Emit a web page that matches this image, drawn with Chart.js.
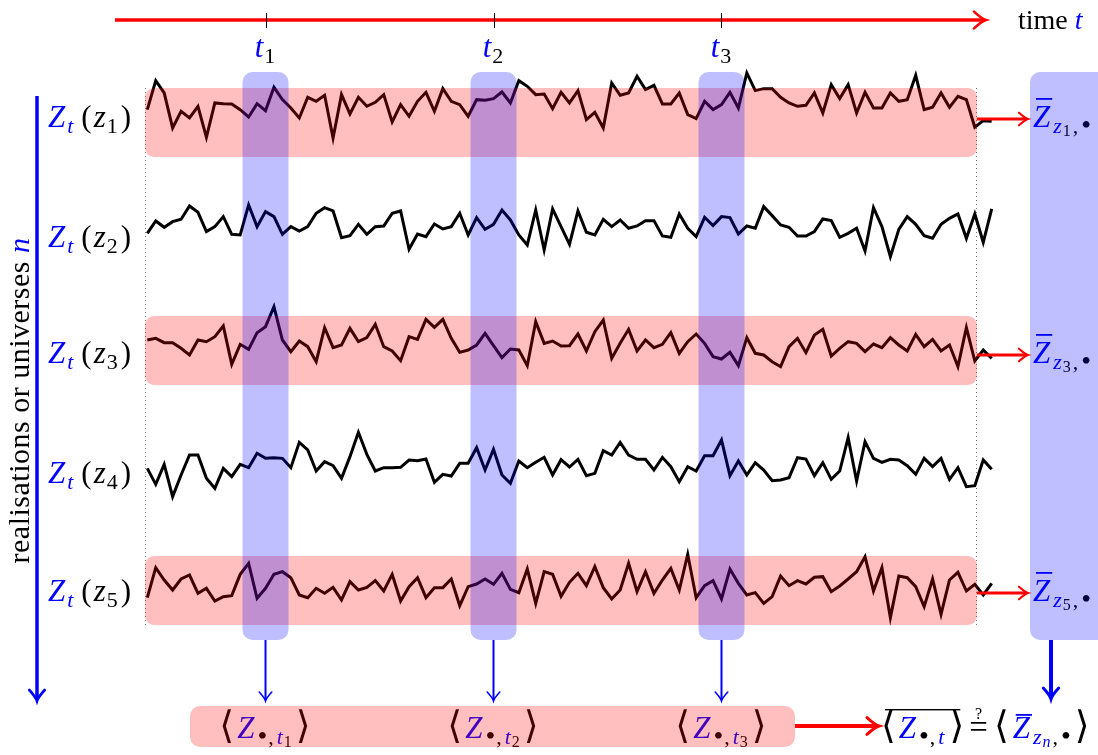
<!DOCTYPE html>
<html>
<head>
<meta charset="utf-8">
<script src="https://cdn.jsdelivr.net/npm/chart.js@4.4.0/dist/chart.umd.min.js"></script>
<style>
  html, body { margin: 0; padding: 0; background: #fff; }
  #wrap { position: relative; width: 1098px; height: 755px; }
</style>
</head>
<body>
<div id="wrap"><canvas id="ensemble"></canvas></div>
<script>
// one realisation per row, 101 samples each
const steps = Array.from({ length: 101 }, (_, i) => i);

const z1 = [-2.5, 6.2, 2.5, -8.0, -3.0, -5.0, -1.5, -10.8, -0.5, -0.7,
  -0.8, -2.5, -4.7, -0.7, -2.8, 4.2, 0.5, -2.0, -5.0, 1.2,
  0.0, 1.8, -11.0, 2.0, -3.8, 1.2, -1.5, -0.3, 2.0, -6.2,
  -1.0, -4.5, 0.0, 2.7, -3.0, 3.8, 0.0, -1.0, -4.5, 0.5,
  0.3, 0.8, 2.8, -0.5, 6.2, 4.5, 2.0, 2.2, -2.2, 2.7,
  -0.5, 3.2, -5.5, -3.3, -8.0, 5.5, 1.8, 2.5, 7.5, 3.5,
  4.8, -0.8, -0.8, 2.5, -4.0, -5.2, 0.0, -2.5, -1.0, 2.7,
  -2.0, 8.5, 3.2, 3.8, 3.8, 1.2, -0.5, -1.5, -1.2, 2.5,
  -3.5, 5.0, 0.8, 5.0, -3.5, 2.7, -2.0, -2.0, 2.5, 0.0,
  0.5, 7.8, -2.5, -1.8, 2.5, -1.8, 1.5, 0.5, -7.8, -5.8,
  -6.0];
const z2 = [-1.5, 2.2, 0.3, 2.0, 2.7, 6.7, 4.8, -1.0, 0.5, 3.5,
  -1.8, -2.0, 7.0, 0.5, 5.0, 3.5, -1.8, 0.5, -0.8, 0.5,
  4.5, 6.2, 5.2, -2.8, -2.2, 1.2, -1.8, 0.5, 0.7, 4.5,
  5.2, -6.3, -1.7, -2.5, 1.3, -0.2, 0.5, 4.5, -2.0, 3.2,
  -0.3, 1.2, 5.5, 2.5, -2.0, -5.0, 5.5, -6.5, 5.8, 0.5,
  -4.8, 5.2, -1.2, -2.0, 2.7, 0.5, 2.5, 0.0, 0.7, 2.3,
  2.3, -2.3, -2.7, 4.3, 0.0, -2.5, 3.3, 0.8, 3.5, 3.2,
  -1.7, 0.7, 0.0, 6.5, 3.8, 1.0, 0.3, -2.3, -2.3, -1.0,
  2.8, 2.3, -2.7, -1.5, 0.0, -6.8, 6.2, 0.5, -8.5, -0.3,
  3.5, 1.2, -2.2, -3.0, 1.2, 3.0, 4.3, -3.0, 4.3, -4.2,
  5.8];
const z3 = [1.5, 2.0, 0.7, 0.7, -1.0, -3.0, 1.5, 1.0, 2.5, 5.7,
  -5.8, 0.2, -1.3, 3.7, 5.5, 11.5, 1.5, -2.0, 1.2, -0.5,
  -5.0, 5.2, -0.8, 0.0, 5.0, 1.0, 2.2, 6.2, -0.5, -1.8,
  -4.7, 2.5, 1.7, 7.7, 5.3, 7.7, 2.0, -2.2, -1.5, 0.0,
  3.5, -0.2, -3.8, -1.2, -1.5, -6.2, 7.0, 0.5, 1.2, -0.3,
  -0.2, 3.3, -1.8, 4.0, 7.5, -4.0, 0.5, 4.7, -1.8, 1.5,
  -0.8, 0.2, 3.7, -2.5, 1.0, 3.3, 0.5, -3.5, -4.2, -2.2,
  -6.2, 2.2, -2.5, -3.0, -5.0, -6.5, -0.5, 2.0, -2.3, 3.0,
  4.7, -3.3, -1.0, 1.0, 0.5, -2.0, 0.3, -0.8, 2.2, 0.0,
  -1.8, 3.2, -0.5, 1.7, -1.8, 0.0, -6.5, 5.2, -4.8, -1.5,
  -4.0];
const z4 = [-1.0, -5.8, 0.2, -9.5, -3.0, 3.0, 3.0, -4.0, -7.0, -1.0,
  -3.5, 0.2, -0.8, 3.5, 2.0, 2.2, 2.0, -0.8, 6.8, 4.5,
  -1.8, 1.0, -0.2, -4.0, 2.5, 9.8, 3.2, -1.8, -0.8, -0.8,
  -0.7, 1.5, 1.3, 1.8, -5.2, -2.8, -3.3, 0.5, 0.5, 5.2,
  -1.5, 4.7, -3.0, -5.5, 1.2, -0.8, 0.8, 2.3, -3.0, 1.6,
  -0.6, 1.7, -3.2, -2.5, 4.3, 3.0, 6.8, 3.0, 1.7, 1.7,
  -1.5, 2.3, -0.5, -5.0, -0.5, -1.8, 2.8, 2.8, 7.5, -3.2,
  1.2, -3.0, 0.7, -1.5, -4.7, -4.5, -3.8, 2.2, 1.8, -3.2,
  0.7, -4.3, -1.8, 8.2, -4.8, 7.0, 2.0, 0.8, 1.7, 1.5,
  -0.2, -2.8, 2.0, -0.5, 2.0, -4.3, -0.8, -6.5, -6.2, 1.5,
  -1.3];
const z5 = [-3.8, 5.2, 1.5, -1.5, 1.8, 3.0, -2.5, -1.0, -4.8, -3.5,
  -3.2, 3.2, 6.5, -4.0, -1.0, 3.2, 4.0, 2.2, -3.0, -3.8,
  -1.0, -2.5, -0.7, -4.5, 1.0, -1.5, -0.7, 1.3, -1.8, 3.2,
  -4.8, -0.5, 2.2, -3.8, -0.8, -0.8, 1.8, -6.2, -0.5, 0.3,
  1.8, 0.2, 3.5, -1.3, -2.3, 4.8, -5.5, 4.0, 3.2, -3.4,
  0.8, 3.5, -0.2, 5.5, -0.8, -4.2, -1.5, 6.5, -2.0, 4.0,
  -2.5, 1.5, 5.0, -1.5, 9.2, -3.8, -0.2, 1.3, -4.2, 4.8,
  0.5, -3.0, -2.3, -5.5, -3.5, 2.7, -0.2, 1.3, 0.3, 2.3,
  2.5, -2.0, -0.3, 1.8, 4.0, 8.5, -1.8, 5.2, -9.8, 2.7,
  2.2, -0.5, -6.5, 1.8, -8.8, 1.5, 3.8, -1.8, 0.2, -3.0,
  0.5];

const realisations = [z1, z2, z3, z4, z5];
const rowNames = ['1', '2', '3', '4', '5'];
const sampleTimes = [14, 41, 68];        // t1, t2, t3 as sample index
const timeNames = ['1', '2', '3'];
const averagedRows = [0, 2, 4];          // rows with a time average

// layout (pixels)
const W = 1098, H = 755;
const X0 = 147.3, DX = 8.444;            // pixel of sample 0, pixels per sample
const rowBase = [101.3, 228.3, 345, 465, 585];
const rowLabelY = [118, 238, 354, 474, 592];
const bandTop = [88, null, 316, null, 556];
const AMP = 10 / 3;

const BLUE = '#0000ff', RED = '#ff0000';
const FONT = '"Liberation Serif", "DejaVu Serif", serif';

// a math-ish run of text pieces, returns pieces with their x and width
function drawRuns(ctx, x, y, parts, align) {
  let total = 0;
  parts.forEach(p => {
    ctx.font = (p.it ? 'italic ' : '') + p.size + 'px ' + (p.font || FONT);
    p.tw = ctx.measureText(p.s).width;
    p.w = p.tw + (p.gap || 0);
    total += p.w;
  });
  let cx = align === 'center' ? x - total / 2 : x;
  ctx.textAlign = 'left';
  ctx.textBaseline = 'alphabetic';
  parts.forEach(p => {
    ctx.font = (p.it ? 'italic ' : '') + p.size + 'px ' + (p.font || FONT);
    ctx.fillStyle = p.c || '#000';
    p.x = cx;
    ctx.fillText(p.s, p.x, y + (p.dy || 0));
    cx += p.w;
  });
  return parts;
}
const M = (s, c, o) => Object.assign({ s, size: 31, c, it: true, gap: 1 }, o);
const R = (s, o) => Object.assign({ s, size: 31 }, o);
const Sb = (s, c, it, o) => Object.assign({ s, size: 22, c, it, dy: 6, gap: 1 }, o);
const SS = (s, c, it, o) => Object.assign({ s, size: 16, c, it, dy: 9, gap: 2 }, o);
const Dot = (o) => Object.assign({ s: '•', size: 28, c: '#000', dy: 7, gap: 1 }, o);
const Br = (s, o) => Object.assign({ s, size: 38, font: '"DejaVu Serif", serif', c: '#000', gap: 1 }, o);

function arrow(ctx, x1, y1, x2, y2, color, lw, len) {
  const a = Math.atan2(y2 - y1, x2 - x1);
  const ux = Math.cos(a), uy = Math.sin(a), nx = -uy, ny = ux;
  ctx.save();
  ctx.strokeStyle = color;
  ctx.lineWidth = lw;
  ctx.lineCap = 'butt';
  ctx.beginPath();
  ctx.moveTo(x1, y1);
  ctx.lineTo(x2 - ux * lw * 0.5, y2 - uy * lw * 0.5);
  ctx.stroke();
  const w = len * 0.7;
  const bx = x2 - ux * len, by = y2 - uy * len;
  const mx = x2 - ux * len * 0.35, my = y2 - uy * len * 0.35;
  ctx.lineCap = 'round';
  ctx.lineWidth = Math.max(1.6, lw * 0.75);
  ctx.beginPath();
  ctx.moveTo(bx + nx * w, by + ny * w);
  ctx.quadraticCurveTo(mx + nx * w * 0.15, my + ny * w * 0.15, x2, y2);
  ctx.quadraticCurveTo(mx - nx * w * 0.15, my - ny * w * 0.15, bx - nx * w, by - ny * w);
  ctx.stroke();
  ctx.restore();
}

function box(ctx, x, y, w, h, r, fill) {
  ctx.fillStyle = fill;
  ctx.beginPath();
  ctx.roundRect(x, y, w, h, r);
  ctx.fill();
}

const diagram = {
  id: 'diagram',
  beforeDatasetsDraw(chart) {
    const ctx = chart.ctx;
    ctx.save();
    ctx.strokeStyle = '#777';
    ctx.lineWidth = 1;
    ctx.setLineDash([1, 3]);
    [145.5, 976.5].forEach(x => {
      ctx.beginPath(); ctx.moveTo(x, 88); ctx.lineTo(x, 625); ctx.stroke();
    });
    ctx.restore();
  },
  afterDatasetsDraw(chart) {
    const ctx = chart.ctx;
    const xs = chart.scales.x;
    const tx = sampleTimes.map(t => xs.getPixelForValue(t));
    ctx.save();

    // --- texts ---
    drawRuns(ctx, 1018, 29, [R('time', { size: 28, gap: 7 }), M('t', BLUE, { size: 28 })]);
    tx.forEach((x, k) => drawRuns(ctx, x, 57, [M('t', BLUE), Sb(timeNames[k], '#000', false)], 'center'));

    ctx.save();
    ctx.translate(29, 400);
    ctx.rotate(-Math.PI / 2);
    ctx.letterSpacing = '0.5px';
    drawRuns(ctx, 0, 0, [R('realisations or universes ', { size: 30 }), M('n', BLUE, { size: 30 })], 'center');
    ctx.letterSpacing = '0px';
    ctx.restore();

    rowNames.forEach((n, k) => {
      drawRuns(ctx, 48, rowLabelY[k] + 9, [
        M('Z', BLUE, { gap: 2 }), Sb('t', BLUE, true, { gap: 8 }), R('(', { gap: 2 }), M('z'), Sb(n, '#000', false, { gap: 3 }), R(')')
      ]);
    });

    averagedRows.forEach(k => {
      const p = drawRuns(ctx, 1033, rowLabelY[k] + 9, [
        M('Z', BLUE, { gap: 3 }), Sb('z', BLUE, true), SS(rowNames[k], '#000', false, { gap: 2 }), Sb(',', '#000', false, { gap: 3 }), Dot()
      ]);
      ctx.fillStyle = BLUE;
      ctx.fillRect(p[0].x + 3, rowLabelY[k] - 20, p[0].tw - 1, 1.8);
    });

    tx.forEach((x, k) => {
      drawRuns(ctx, x, 738, [
        Br('⟨', { gap: 3 }), M('Z', BLUE, { gap: 3 }), Dot(), Sb(',', '#000', false, { gap: 3 }), Sb('t', BLUE, true), SS(timeNames[k], '#000', false, { gap: 4 }), Br('⟩')
      ], 'center');
    });

    const f = drawRuns(ctx, 881, 738, [
      Br('⟨', { gap: 3 }), M('Z', BLUE, { gap: 3 }), Dot(), Sb(',', '#000', false, { gap: 3 }), Sb('t', BLUE, true, { gap: 5 }), Br('⟩', { gap: 5 }),
      R('=', { gap: 6, size: 33 }),
      Br('⟨', { gap: 4 }), M('Z', BLUE, { gap: 3 }), Sb('z', BLUE, true), SS('n', BLUE, true, { gap: 2 }), Sb(',', '#000', false, { gap: 3 }), Dot({ gap: 4 }), Br('⟩')
    ]);
    ctx.fillStyle = '#000';
    ctx.fillRect(f[0].x + 4, 709, f[5].x + f[5].tw - f[0].x - 8, 1.4);
    ctx.fillStyle = BLUE;
    ctx.fillRect(f[8].x + 3, 714, f[8].tw - 1, 1.8);
    ctx.fillStyle = '#000';
    ctx.font = '16px ' + FONT;
    ctx.textAlign = 'center';
    ctx.fillText('?', f[6].x + f[6].tw / 2, 719);

    // --- translucent bands ---
    averagedRows.forEach(k => box(ctx, 145, bandTop[k], 832, 69, 9, 'rgba(255,0,0,0.25)'));
    box(ctx, 190, 706, 605, 41, 10, 'rgba(255,0,0,0.25)');
    tx.forEach(x => box(ctx, x - 23, 72, 46, 568, 10, 'rgba(0,0,255,0.25)'));
    box(ctx, 1030, 72, 78, 568, 10, 'rgba(0,0,255,0.25)');

    // --- arrows ---
    arrow(ctx, 115, 20, 986, 20, RED, 3.5, 12);
    ctx.strokeStyle = '#000';
    ctx.lineWidth = 1;
    tx.forEach(x => {
      ctx.beginPath(); ctx.moveTo(Math.round(x) + 0.5, 13); ctx.lineTo(Math.round(x) + 0.5, 28); ctx.stroke();
    });
    arrow(ctx, 37, 96, 37, 701, BLUE, 3.5, 11);
    averagedRows.forEach(k => arrow(ctx, 977, rowLabelY[k] + 1, 1028, rowLabelY[k] + 1, RED, 2.8, 9));
    tx.forEach(x => arrow(ctx, x, 640, x, 701, BLUE, 2, 9));
    arrow(ctx, 1051, 640, 1051, 699, BLUE, 4, 11);
    arrow(ctx, 795, 726, 879, 726, RED, 4, 12);

    ctx.restore();
  }
};

new Chart(document.getElementById('ensemble'), {
  type: 'line',
  data: {
    datasets: realisations.map((vals, k) => ({
      label: 'z' + rowNames[k],
      data: vals.map((v, i) => ({ x: steps[i], y: rowBase[k] - v * AMP })),
      borderColor: '#000',
      borderWidth: 3,
      borderJoinStyle: 'miter',
      pointRadius: 0,
      tension: 0,
      fill: false,
      clip: false
    }))
  },
  options: {
    responsive: true,
    maintainAspectRatio: false,
    animation: false,
    layout: { padding: 0 },
    plugins: { legend: { display: false }, tooltip: { enabled: false } },
    scales: {
      x: { type: 'linear', display: false, min: -X0 / DX, max: (W - X0) / DX },
      y: { type: 'linear', display: false, min: 0, max: H, reverse: true }
    }
  },
  plugins: [diagram]
});
</script>
</body>
</html>
